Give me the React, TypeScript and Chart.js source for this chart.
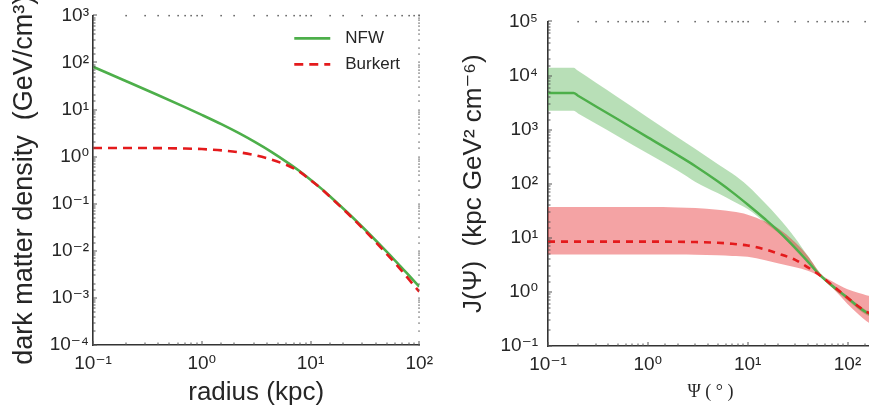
import React, { useEffect, useRef } from 'react';
import { Chart, registerables } from 'chart.js';

Chart.register(...registerables);

// ---------- data ----------
const radius = [0.1, 0.2, 0.38, 0.7, 1.0, 1.53, 2.2, 3.1, 4.4, 6.25, 7.8, 9.87, 12.5, 15.5, 22, 31.3, 45, 63, 80, 100];
const nfwDensity = [81, 40.5, 21.2, 11.3, 7.73, 4.84, 3.15, 2.03, 1.25, 0.73, 0.507, 0.332, 0.212, 0.136, 0.0643, 0.0291, 0.0124, 0.0055, 0.00303, 0.00173];
const burkertDensity = [1.53, 1.53, 1.52, 1.49, 1.45, 1.36, 1.24, 1.07, 0.86, 0.64, 0.49, 0.325, 0.21, 0.133, 0.062, 0.0275, 0.0113, 0.0048, 0.0025, 0.00135];

const psi = [0.1, 0.18, 0.2, 0.3, 0.5, 1, 2, 3, 5, 7, 10, 15, 20, 30, 40, 54, 70, 100, 130, 154, 180];
const nfwJ = [4760, 4760, 4240, 2710, 1550, 718, 336, 211, 111, 70, 41.3, 22, 13.7, 6.47, 3.64, 1.97, 1.3, 0.78, 0.52, 0.42, 0.37];
const nfwJUpper = [13900, 13900, 12200, 7410, 3956, 1682, 717, 436, 232, 154, 92, 43.3, 24.4, 9.8, 4.64, 2.15, 1.42, 0.84, 0.57, 0.46, 0.41];
const nfwJLower = [2220, 2220, 1985, 1292, 751, 360, 173, 108, 67, 48.5, 34, 19, 12.5, 5.9, 3.35, 1.88, 1.2, 0.7, 0.47, 0.38, 0.33];
const burkertJ = [8.5, 8.5, 8.5, 8.5, 8.5, 8.5, 8.45, 8.35, 8.1, 7.75, 7.2, 6.1, 5.15, 3.9, 2.85, 1.97, 1.33, 0.78, 0.53, 0.43, 0.38];
const burkertJUpper = [37, 37, 37, 37, 37, 37, 36.5, 35.5, 33, 30.5, 26.8, 20, 15.2, 8.2, 4.6, 2.15, 1.58, 1.12, 0.95, 0.87, 0.82];
const burkertJLower = [4.9, 4.9, 4.9, 4.9, 4.9, 4.9, 4.9, 4.85, 4.75, 4.62, 4.45, 3.85, 3.4, 2.85, 2.45, 1.85, 1.2, 0.6, 0.38, 0.29, 0.24];

const seriesNames = ['NFW', 'Burkert'];

const leftXExponents = [-1, 0, 1, 2];
const leftXTickLabels = ['10⁻¹', '10⁰', '10¹', '10²'];
const leftYExponents = [-4, -3, -2, -1, 0, 1, 2, 3];
const leftYTickLabels = ['10⁻⁴', '10⁻³', '10⁻²', '10⁻¹', '10⁰', '10¹', '10²', '10³'];
const rightXExponents = [-1, 0, 1, 2];
const rightXTickLabels = ['10⁻¹', '10⁰', '10¹', '10²'];
const rightYExponents = [-1, 0, 1, 2, 3, 4, 5];
const rightYTickLabels = ['10⁻¹', '10⁰', '10¹', '10²', '10³', '10⁴', '10⁵'];

const leftXTitle = 'radius (kpc)';
const leftYTitle = 'dark matter density  (GeV/cm³)';
const rightXTitle = 'Ψ ( ° )';
const rightYTitle = 'J(Ψ)  (kpc GeV² cm⁻⁶)';

// ---------- styles ----------
const SANS = "'Liberation Sans', Arial, 'DejaVu Sans', sans-serif";
const SERIF = "'Liberation Serif', 'DejaVu Serif', serif";
const TEXT = '#262626';
const GREEN = '#4daf4a';
const RED = '#e41a1c';
const GREEN_BAND = 'rgba(77,175,74,0.4)';
const RED_BAND = 'rgba(228,26,28,0.4)';

const pts = (xs: number[], ys: number[]) => xs.map((x, i) => ({ x, y: ys[i] }));

function decadeLabel(exps: number[], labels: string[]) {
  return (value: any) => {
    const e = Math.log10(Number(value));
    const r = Math.round(e);
    if (Math.abs(e - r) > 1e-6) return '';
    const i = exps.indexOf(r);
    return i >= 0 ? labels[i] : '';
  };
}

const isDecade = (v: number) => {
  const e = Math.log10(v);
  return Math.abs(e - Math.round(e)) < 1e-6;
};

// small tick marks: inward on left/bottom, dots on top/right
const edgeTicks = {
  id: 'edgeTicks',
  afterDraw(chart: any, _args: any, opts: any) {
    const { ctx, chartArea: a } = chart;
    const xs = chart.scales.x;
    const ys = chart.scales.y;
    ctx.save();
    for (const t of xs.ticks) {
      if (t.value < xs.min || t.value > xs.max) continue;
      const px = Math.round(xs.getPixelForValue(t.value));
      const major = isDecade(t.value);
      ctx.fillStyle = '#555';
      ctx.fillRect(px - 0.5, a.bottom - (major ? 4 : 2.5), 1, major ? 4 : 2.5);
      if (opts.top) {
        ctx.fillStyle = '#333';
        ctx.fillRect(px - 0.5, a.top - 0.5, 1.2, 1.5);
      }
    }
    for (const t of ys.ticks) {
      if (t.value < ys.min || t.value > ys.max) continue;
      const py = Math.round(ys.getPixelForValue(t.value));
      const major = isDecade(t.value);
      ctx.fillStyle = '#555';
      ctx.fillRect(a.left, py - 0.5, major ? 4 : 2.5, 1);
      if (opts.right) {
        ctx.fillStyle = '#666';
        ctx.fillRect(a.right - 1, py - 0.5, 1.5, 1.2);
      }
    }
    ctx.restore();
  },
};

// legend drawn inside the plot area (upper right)
const cornerLegend = {
  id: 'cornerLegend',
  afterDraw(chart: any, _args: any, opts: any) {
    if (!opts || !opts.display) return;
    const { ctx, chartArea: a } = chart;
    const items = chart.data.datasets.filter((d: any) => d.inLegend);
    ctx.save();
    ctx.font = `${opts.fontSize}px ${SANS}`;
    ctx.textBaseline = 'middle';
    ctx.textAlign = 'left';
    items.forEach((ds: any, i: number) => {
      const y = a.top + opts.top + i * opts.spacing;
      const x0 = a.right - opts.right;
      ctx.strokeStyle = ds.borderColor;
      ctx.lineWidth = ds.borderWidth;
      ctx.setLineDash(ds.borderDash || []);
      ctx.beginPath();
      ctx.moveTo(x0, y);
      ctx.lineTo(x0 + opts.lineLength, y);
      ctx.stroke();
      ctx.setLineDash([]);
      ctx.fillStyle = TEXT;
      ctx.fillText(ds.label, x0 + opts.lineLength + opts.gap, y);
    });
    ctx.restore();
  },
};

function axisBase(opts: {
  min: number; max: number; exps: number[]; labels: string[]; pad: number;
  fit: (s: any) => void; title: string; titleFont: any; titlePad: any;
}) {
  return {
    type: 'logarithmic' as const,
    min: opts.min,
    max: opts.max,
    afterFit: opts.fit,
    grid: { display: false, drawTicks: false },
    border: { display: true, color: '#333', width: 1.6 },
    ticks: {
      autoSkip: false,
      maxRotation: 0,
      minRotation: 0,
      padding: opts.pad,
      color: TEXT,
      font: { family: SANS, size: 19 },
      callback: decadeLabel(opts.exps, opts.labels),
    },
    title: {
      display: true,
      text: opts.title,
      color: TEXT,
      font: opts.titleFont,
      padding: opts.titlePad,
    },
  };
}

const lineDefaults = {
  pointRadius: 0,
  cubicInterpolationMode: 'monotone' as const,
  fill: false,
};

function LeftChart() {
  const ref = useRef<HTMLCanvasElement | null>(null);
  useEffect(() => {
    if (!ref.current) return;
    const chart = new Chart(ref.current, {
      type: 'line',
      data: {
        datasets: [
          {
            ...lineDefaults,
            label: seriesNames[0],
            data: pts(radius, nfwDensity),
            borderColor: GREEN,
            borderWidth: 2.6,
            order: 1,
            inLegend: true,
          } as any,
          {
            ...lineDefaults,
            label: seriesNames[1],
            data: pts(radius, burkertDensity),
            borderColor: RED,
            borderWidth: 2.6,
            borderDash: [9, 6],
            order: 0,
            inLegend: true,
          } as any,
        ],
      },
      options: {
        responsive: false,
        maintainAspectRatio: false,
        animation: false,
        events: [],
        layout: { padding: { top: 12, right: 18, left: 0, bottom: 0 } },
        plugins: {
          legend: { display: false },
          tooltip: { enabled: false },
          cornerLegend: { display: true, fontSize: 17, top: 23, spacing: 26, right: 125, lineLength: 36, gap: 15 },
          edgeTicks: { top: true, right: true },
        } as any,
        scales: {
          x: axisBase({
            min: 0.1, max: 100, exps: leftXExponents, labels: leftXTickLabels, pad: 7,
            fit: (s: any) => { s.height = 71; },
            title: leftXTitle, titleFont: { family: SANS, size: 26 }, titlePad: { top: 0, bottom: 8 },
          }) as any,
          y: axisBase({
            min: 1e-4, max: 1e3, exps: leftYExponents, labels: leftYTickLabels, pad: 4,
            fit: (s: any) => { s.width = 93; },
            title: leftYTitle, titleFont: { family: SANS, size: 27 }, titlePad: { top: 8, bottom: 0 },
          }) as any,
        },
      },
      plugins: [edgeTicks, cornerLegend],
    });
    return () => chart.destroy();
  }, []);
  return <canvas ref={ref} width={440} height={416} style={{ position: 'absolute', left: 0, top: 0, width: 440, height: 416 }} />;
}

function RightChart() {
  const ref = useRef<HTMLCanvasElement | null>(null);
  useEffect(() => {
    if (!ref.current) return;
    const band = { pointRadius: 0, cubicInterpolationMode: 'monotone' as const, borderWidth: 0, borderColor: 'rgba(0,0,0,0)' };
    const chart = new Chart(ref.current, {
      type: 'line',
      data: {
        datasets: [
          {
            ...lineDefaults,
            label: seriesNames[0],
            data: pts(psi, nfwJ),
            borderColor: GREEN,
            borderWidth: 2.4,
            order: 1,
          },
          {
            ...lineDefaults,
            label: seriesNames[1],
            data: pts(psi, burkertJ),
            borderColor: RED,
            borderWidth: 2.6,
            borderDash: [7, 6],
            order: 0,
          },
          { ...band, label: seriesNames[0] + ' upper', data: pts(psi, nfwJUpper), backgroundColor: GREEN_BAND, fill: '+1', order: 3 },
          { ...band, label: seriesNames[0] + ' lower', data: pts(psi, nfwJLower), fill: false, order: 3 },
          { ...band, label: seriesNames[1] + ' upper', data: pts(psi, burkertJUpper), backgroundColor: RED_BAND, fill: '+1', order: 2 },
          { ...band, label: seriesNames[1] + ' lower', data: pts(psi, burkertJLower), fill: false, order: 2 },
        ] as any,
      },
      options: {
        responsive: false,
        maintainAspectRatio: false,
        animation: false,
        events: [],
        layout: { padding: { top: 12, right: 4, left: 0, bottom: 0 } },
        plugins: {
          legend: { display: false },
          tooltip: { enabled: false },
          edgeTicks: { top: true, right: false },
        } as any,
        scales: {
          x: axisBase({
            min: 0.1, max: 180, exps: rightXExponents, labels: rightXTickLabels, pad: 7,
            fit: (s: any) => { s.height = 70; },
            title: rightXTitle, titleFont: { family: SERIF, size: 18 }, titlePad: { top: 0, bottom: 13 },
          }) as any,
          y: axisBase({
            min: 0.1, max: 1e5, exps: rightYExponents, labels: rightYTickLabels, pad: 10,
            fit: (s: any) => { s.width = 108; },
            title: rightYTitle, titleFont: { family: SANS, size: 26 }, titlePad: { top: 18, bottom: 0 },
          }) as any,
        },
      },
      plugins: [edgeTicks],
    });
    return () => chart.destroy();
  }, []);
  return <canvas ref={ref} width={440} height={416} style={{ position: 'absolute', left: 440, top: 0, width: 440, height: 416 }} />;
}

export default function App() {
  return (
    <div style={{ position: 'fixed', left: 0, top: 0, width: 869, height: 416, overflow: 'hidden', background: '#fff' }}>
      <LeftChart />
      <RightChart />
    </div>
  );
}
